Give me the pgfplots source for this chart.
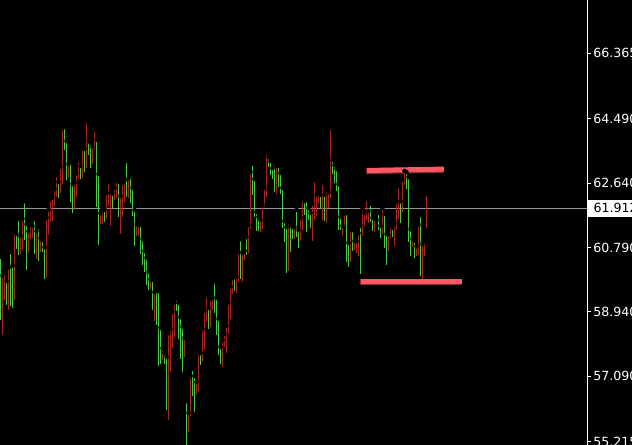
\documentclass[border=0pt]{standalone}
\usepackage{fontspec}
\setmainfont{DejaVu Sans}
\usepackage{pgfplots}
\usepackage{pgfplotstable}
\pgfplotsset{compat=1.18}
\definecolor{upg}{RGB}{0,255,0}
\definecolor{dnr}{RGB}{255,0,0}
\definecolor{annot}{RGB}{255,88,100}
\definecolor{annotdk}{RGB}{130,40,48}
\definecolor{pline}{RGB}{150,150,150}

\pgfplotstableread{
x hi lo
0 60.52 58.71
6 59.83 59.14
10 60.66 59.11
12 60.27 59.05
16 61.18 60.75
18 61.61 60.57
24 62.12 61.00
26 61.46 60.14
34 61.61 60.60
38 61.38 60.40
42 61.00 60.66
44 60.80 59.88
58 62.67 62.21
64 64.25 63.59
66 63.85 62.73
70 63.24 62.10
72 62.61 61.78
80 63.13 62.76
84 63.62 62.96
88 63.85 63.44
90 63.79 63.07
96 63.88 61.95
98 62.90 60.86
104 61.87 61.52
112 62.33 61.92
118 62.67 61.67
126 63.27 62.24
130 62.84 62.07
132 62.50 61.69
134 61.87 60.83
140 61.44 60.60
142 61.03 60.29
144 60.69 60.09
146 60.49 59.71
148 60.09 59.57
152 59.86 59.00
156 59.54 58.56
158 59.54 57.39
160 58.48 57.44
164 57.76 57.44
166 57.65 56.12
176 59.31 58.97
178 59.20 58.16
180 58.79 57.59
182 58.51 57.21
186 56.38 54.97
192 57.30 56.53
194 57.10 56.07
200 57.76 57.42
208 59.05 58.45
214 59.80 58.91
216 59.34 58.28
218 58.74 57.70
220 57.93 57.44
234 59.94 59.54
240 61.03 59.88
246 61.09 60.57
252 63.19 62.30
254 62.76 61.67
256 61.81 61.26
258 61.67 61.26
268 63.39 63.10
270 63.27 62.87
272 63.07 62.76
274 63.22 62.38
278 63.13 62.53
280 62.93 62.33
282 62.50 61.35
284 61.55 60.95
286 61.38 60.06
290 61.46 60.66
292 61.38 61.03
296 61.87 61.09
298 61.29 60.77
304 62.12 61.72
306 62.15 61.23
308 61.92 61.58
310 61.78 61.35
320 62.30 61.89
324 62.30 61.55
332 63.30 62.90
334 63.16 62.64
336 63.04 62.41
338 62.61 61.29
340 61.67 61.29
346 61.78 60.37
348 60.92 60.23
352 61.29 60.69
360 61.41 60.03
370 62.04 61.52
372 61.64 61.26
376 61.58 61.52
378 61.78 61.29
380 61.41 61.06
384 61.75 60.77
386 61.18 60.29
392 61.35 61.09
400 62.12 61.49
406 62.96 62.47
408 62.81 60.95
410 61.32 60.54
414 60.98 60.49
420 61.72 59.97
}\upbars

\pgfplotstableread{
x hi lo
2 59.98 58.28
4 60.09 59.28
8 60.21 59.00
14 61.24 59.28
20 61.12 60.60
22 61.61 60.72
28 61.26 60.63
30 61.44 61.03
32 61.41 61.06
36 61.26 60.46
40 61.06 60.66
46 61.64 59.91
48 61.87 61.15
50 62.18 61.52
52 62.24 61.55
54 62.47 61.98
56 62.87 62.24
60 63.10 62.35
62 64.22 62.61
68 63.19 62.81
74 62.64 61.87
76 62.93 62.24
78 63.30 62.76
82 63.62 62.78
86 64.42 63.07
92 63.68 63.19
94 64.16 63.59
100 61.78 61.46
102 61.89 61.46
106 62.35 61.61
108 62.67 61.98
110 62.38 61.41
114 62.50 62.15
116 62.73 62.21
120 62.27 61.18
122 62.64 61.67
124 62.73 62.10
128 62.78 62.21
136 61.46 61.12
138 61.44 61.12
150 59.88 59.60
154 59.51 58.68
162 57.90 57.56
168 58.33 55.84
170 58.45 57.21
172 58.94 57.90
174 59.20 58.19
184 58.19 57.65
188 56.04 55.49
190 57.10 55.95
196 56.93 56.58
198 57.76 56.67
202 58.45 57.53
204 58.97 57.85
206 59.40 58.65
210 59.31 58.51
212 59.34 59.00
222 58.13 57.36
224 58.31 57.93
226 58.54 57.76
228 59.20 58.31
230 59.66 58.74
232 59.91 59.45
236 59.94 59.48
238 60.66 59.80
242 60.63 59.80
244 60.69 60.43
248 61.44 60.63
250 62.96 61.32
260 61.58 61.23
262 62.01 61.32
264 62.50 61.95
266 63.50 62.24
276 63.13 62.33
288 61.55 60.11
294 61.38 61.03
300 61.64 60.98
302 62.18 61.29
312 62.04 60.98
314 62.73 61.58
316 62.30 61.69
318 62.35 62.04
322 62.64 61.58
326 62.44 61.49
328 62.38 61.92
330 64.22 62.21
342 61.41 61.15
344 61.75 61.38
350 61.29 60.37
354 60.98 60.72
356 60.98 60.63
358 61.20 60.54
362 61.89 61.12
364 61.78 61.41
366 62.18 61.58
368 61.84 61.49
374 61.67 61.23
382 61.92 61.18
388 61.15 60.69
390 61.44 61.06
394 61.46 60.83
396 62.10 61.29
398 62.55 61.61
402 62.73 61.81
404 62.99 62.58
412 61.03 60.80
416 60.83 60.54
418 61.44 60.57
422 60.89 59.88
424 60.98 60.54
426 62.33 61.35
}\dnbars

\begin{document}
\begin{tikzpicture}
\fill[black] (0,0) rectangle (632bp,445bp);
\begin{axis}[
  at={(0,0)}, anchor=south west,
  scale only axis, width=587bp, height=445bp,
  xmin=-0.5, xmax=586.5, ymin=55.119, ymax=67.895,
  axis x line=none, axis y line*=right,
  y axis line style={white, line width=1bp},
  ytick={55.215,57.090,58.940,60.790,62.640,64.490,66.365},
  yticklabels={55.215,57.090,58.940,60.790,62.640,64.490,66.365},
  tick align=outside, major tick length=4bp,
  ytick style={white, line width=1bp},
  yticklabel style={white, font=\fontsize{12.6bp}{14bp}\selectfont, anchor=west, inner xsep=2.2bp},
  /pgf/number format/assume math mode=true,
]
\addplot[pline, line width=1bp] coordinates {(-0.5,61.912) (586.5,61.912)};
\addplot[only marks, mark=none, error bars/.cd, y dir=minus, y explicit, error mark=none,
  error bar style={line width=1bp, color=upg}]
  table[x=x, y=hi, y error minus expr=\thisrow{hi}-\thisrow{lo}] {\upbars};
\addplot[only marks, mark=none, error bars/.cd, y dir=minus, y explicit, error mark=none,
  error bar style={line width=1bp, color=dnr}]
  table[x=x, y=hi, y error minus expr=\thisrow{hi}-\thisrow{lo}] {\dnbars};
\addplot[annotdk, line width=6bp, shift={(-0.7bp,-0.7bp)}] coordinates {(366.5,63.00) (443.5,63.04)};
\addplot[annot, line width=5bp] coordinates {(366.5,63.00) (443.5,63.04)};
\addplot[annotdk, line width=6bp, shift={(-0.7bp,-0.7bp)}] coordinates {(360.5,59.81) (461.5,59.81)};
\addplot[annot, line width=5bp] coordinates {(360.5,59.81) (461.5,59.81)};
\coordinate (pl) at (axis cs:586.5,61.912);
\end{axis}
\node[fill=white, text=black, anchor=west, inner xsep=0pt, inner ysep=0pt,
  minimum height=17bp, font=\fontsize{12.6bp}{14bp}\selectfont, xshift=1bp] at (pl) {\hspace{5.3bp}61.912\hspace{6bp}};
\pgfresetboundingbox
\useasboundingbox (0,0) rectangle (632bp,445bp);
\end{tikzpicture}
\end{document}
